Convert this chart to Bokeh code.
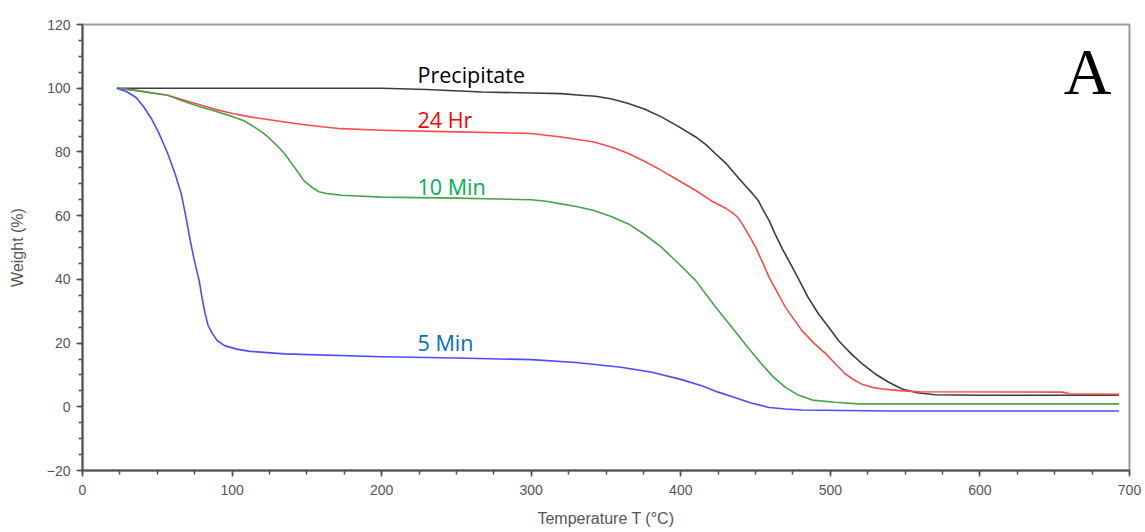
from bokeh.plotting import figure
from bokeh.models import SingleIntervalTicker, Label, Range1d
from bokeh.embed import file_html
from bokeh.resources import INLINE
from bokeh.core.properties import value

# ---- data ----
temp_precip = [23, 200, 230, 267, 300, 320, 333, 343, 354, 365, 376, 387, 398, 410, 417, 423, 430, 436, 442,
               448, 452, 455, 459, 463, 468, 474, 480, 485, 492, 499, 506, 514, 522, 530, 539, 548, 558, 570, 600, 693]
w_precip = [100, 100, 99.6, 98.8, 98.5, 98.3, 97.8, 97.5, 96.6, 95.2, 93.4, 91.0, 88.1, 84.7, 82.2, 79.5, 76.5,
            73.2, 70.0, 66.9, 64.6, 61.8, 58.5, 54.3, 49.5, 44.3, 39.0, 34.4, 29.2, 24.9, 20.5, 16.6, 13.2, 10.3,
            7.7, 5.6, 4.4, 3.8, 3.6, 3.6]

temp_24hr = [23, 35, 45, 57, 68, 79, 90, 101, 112, 124, 135, 146, 160, 173, 200, 250, 300, 320, 342, 354, 365,
             376, 387, 398, 410, 421, 430, 434, 438, 441, 446, 450, 455, 459, 465, 470, 476, 481, 489, 497, 504,
             510, 516, 521, 528, 535, 548, 560, 655, 660, 693]
w_24hr = [100, 99.4, 98.6, 97.8, 96.2, 94.7, 93.2, 92.0, 91.0, 90.2, 89.4, 88.7, 87.9, 87.3, 86.8, 86.3, 85.8,
          84.7, 83.1, 81.5, 79.5, 77.0, 74.2, 71.2, 67.9, 64.5, 62.3, 61.1, 59.5, 57.5, 53.5, 50.1, 45.0, 40.7,
          35.5, 31.2, 27.2, 23.9, 20.0, 16.6, 13.2, 10.3, 8.4, 7.1, 6.1, 5.6, 5.0, 4.7, 4.6, 4.1, 3.9]

temp_10min = [23, 40, 57, 68, 79, 90, 101, 108, 115, 120, 124, 130, 135, 140, 144, 148, 153, 158, 164, 173, 200,
              250, 300, 310, 320, 331, 342, 353, 365, 376, 387, 398, 410, 423, 436, 445, 454, 462, 470, 478, 488,
              503, 519, 693]
w_10min = [100, 99.0, 97.8, 95.8, 94.1, 92.6, 91.0, 89.8, 87.8, 86.2, 84.7, 82.0, 79.5, 76.3, 73.7, 71.0, 69.0,
           67.5, 66.9, 66.4, 65.8, 65.5, 65.0, 64.5, 63.7, 62.8, 61.6, 59.8, 57.4, 54.0, 50.1, 45.2, 39.6, 31.5,
           23.9, 18.5, 13.4, 9.3, 6.1, 3.8, 2.1, 1.4, 0.9, 0.9]

temp_5min = [23, 30, 36, 41, 46, 51, 57, 62, 66, 69, 72, 75, 78, 80, 82, 84, 87, 90, 95, 103, 112, 135, 200,
             250, 300, 330, 360, 380, 400, 414, 425, 436, 447, 459, 470, 481, 539, 693]
w_5min = [100, 98.8, 97.0, 94.1, 90.5, 86.0, 79.5, 73.0, 66.9, 60.0, 52.2, 45.5, 39.6, 34.0, 29.2, 25.5, 22.9,
          20.8, 19.2, 18.1, 17.4, 16.6, 15.7, 15.3, 14.8, 13.9, 12.4, 10.9, 8.6, 6.6, 4.6, 2.9, 1.2, -0.2, -0.7,
          -1.0, -1.3, -1.3]

series_names = ["Precipitate", "24 Hr", "10 Min", "5 Min"]
label_x = [224, 224, 224, 224]
label_y = [104.4, 90.3, 69.2, 20.1]

x_ticks_major = 100
y_ticks_major = 20

# ---- figure ----
p = figure(width=1145, height=532, output_backend="svg", toolbar_location=None,
           x_range=Range1d(0, 700), y_range=Range1d(-20, 120),
           min_border_left=82, min_border_right=16, min_border_top=24, min_border_bottom=62)
p.background_fill_color = "white"
p.border_fill_color = "white"
p.xgrid.visible = False
p.ygrid.visible = False
p.outline_line_color = "#9a9a9a"
p.outline_line_width = 2

line_colors = ["#3c3c3c", "#ff4a4a", "#48a448", "#4d4dff"]
text_colors = ["#000000", "#ff0000", "#00b050", "#0070c0"]
data = [(temp_precip, w_precip), (temp_24hr, w_24hr), (temp_10min, w_10min), (temp_5min, w_5min)]
for (tx, wy), c in zip(data, line_colors):
    p.line(tx, wy, line_color=c, line_width=1.6, line_join="round")

for name, lx, ly, c in zip(series_names, label_x, label_y, text_colors):
    p.text(x=[lx], y=[ly], text=[name], text_color=c, text_font=value("Open Sans"),
           text_font_size="21.5px", text_baseline="middle", text_align="left")

p.add_layout(Label(x=672, y=105.3, text="A", text_font="Liberation Serif",
                   text_font_size="66px", text_align="center", text_baseline="middle",
                   text_color="black"))

for ax in (p.xaxis[0], p.yaxis[0]):
    ax.axis_line_color = "#505050"
    ax.axis_line_width = 2
    ax.major_tick_line_color = "#505050"
    ax.minor_tick_line_color = "#505050"
    ax.major_tick_line_width = 1.5
    ax.minor_tick_line_width = 1.5
    ax.major_tick_in = 0
    ax.major_tick_out = 6
    ax.minor_tick_in = 0
    ax.minor_tick_out = 4
    ax.major_label_text_font = "Liberation Sans"
    ax.major_label_text_font_size = "14px"
    ax.major_label_text_color = "#555555"
    ax.axis_label_text_font = "Liberation Sans"
    ax.axis_label_text_font_size = "16px"
    ax.axis_label_text_font_style = "normal"
    ax.axis_label_text_color = "#555555"

p.xaxis[0].ticker = SingleIntervalTicker(interval=x_ticks_major, num_minor_ticks=4)
p.yaxis[0].ticker = SingleIntervalTicker(interval=y_ticks_major, num_minor_ticks=4)
p.xaxis[0].axis_label = "Temperature T (°C)"
p.yaxis[0].axis_label = "Weight (%)"
p.xaxis[0].major_label_standoff = 8
p.yaxis[0].major_label_standoff = 6
p.xaxis[0].axis_label_standoff = 12
p.yaxis[0].axis_label_standoff = 18

open("out.html", "w").write(file_html(p, INLINE))
